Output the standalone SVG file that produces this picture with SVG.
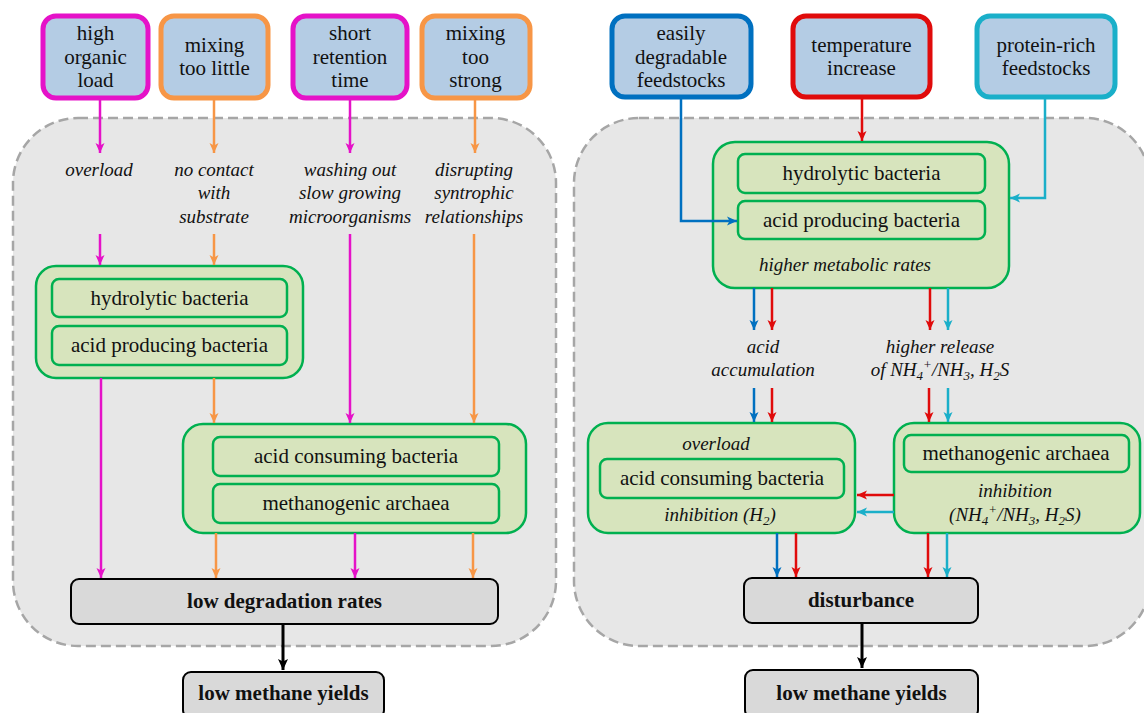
<svg xmlns="http://www.w3.org/2000/svg" width="1144" height="713" viewBox="0 0 1144 713">
<style>
.panel{fill:#e7e7e7;stroke:#a6a6a6;stroke-width:2.5;stroke-dasharray:10 5}
.top{fill:#b4cce4;stroke-width:5}
.grp{fill:#d7e4bd;stroke:#00b050;stroke-width:2.5}
.in{fill:#d7e4bd;stroke:#00b050;stroke-width:2.5}
.gray{fill:#d9d9d9;stroke:#000;stroke-width:2}
.txt text{fill:#111;text-anchor:middle}
.t{font-size:21px}
.i{font-size:19px;font-style:italic}
.b{font-size:21px;font-weight:bold}
.s{font-size:13px}
.c{fill:none;stroke-width:2.5}
.mg{stroke:#e512c8}.or{stroke:#f79646}.bl{stroke:#0070c0}.rd{stroke:#e00b0b}.cy{stroke:#1aafc9}.bk{stroke:#000;stroke-width:3}
</style>
<defs>
<marker id="amg" markerUnits="userSpaceOnUse" markerWidth="11" markerHeight="10" refX="10" refY="5" orient="auto"><path d="M0,0.5 L10,5 L0,9.5 L2.5,5 z" fill="#e512c8"/></marker>
<marker id="aor" markerUnits="userSpaceOnUse" markerWidth="11" markerHeight="10" refX="10" refY="5" orient="auto"><path d="M0,0.5 L10,5 L0,9.5 L2.5,5 z" fill="#f79646"/></marker>
<marker id="abl" markerUnits="userSpaceOnUse" markerWidth="11" markerHeight="10" refX="10" refY="5" orient="auto"><path d="M0,0.5 L10,5 L0,9.5 L2.5,5 z" fill="#0070c0"/></marker>
<marker id="ard" markerUnits="userSpaceOnUse" markerWidth="11" markerHeight="10" refX="10" refY="5" orient="auto"><path d="M0,0.5 L10,5 L0,9.5 L2.5,5 z" fill="#e00b0b"/></marker>
<marker id="acy" markerUnits="userSpaceOnUse" markerWidth="11" markerHeight="10" refX="10" refY="5" orient="auto"><path d="M0,0.5 L10,5 L0,9.5 L2.5,5 z" fill="#1aafc9"/></marker>
<marker id="abk" markerUnits="userSpaceOnUse" markerWidth="12" markerHeight="11" refX="11" refY="5.5" orient="auto"><path d="M0,0.5 L11,5.5 L0,10.5 L2.5,5.5 z" fill="#000"/></marker>
</defs>

<g id="panels">
<rect class="panel" x="13" y="118" width="543" height="528" rx="65"/>
<rect class="panel" x="574" y="118" width="576" height="528" rx="65"/>
</g>

<g class="txt" font-family="'Liberation Serif', 'DejaVu Serif', 'Times New Roman', Times, serif">

<g id="n-high-organic-load"><rect class="top" x="43" y="16" width="105" height="82" rx="13" stroke="#e512c8"/><text class="t" x="95.5" y="40">high</text><text class="t" x="95.5" y="64">organic</text><text class="t" x="95.5" y="87">load</text></g>
<g id="n-mixing-too-little"><rect class="top" x="161" y="16" width="107" height="82" rx="13" stroke="#f79646"/><text class="t" x="214.5" y="52">mixing</text><text class="t" x="214.5" y="75">too little</text></g>
<g id="n-short-retention"><rect class="top" x="293" y="16" width="114" height="82" rx="13" stroke="#e512c8"/><text class="t" x="350" y="40">short</text><text class="t" x="350" y="64">retention</text><text class="t" x="350" y="87">time</text></g>
<g id="n-mixing-too-strong"><rect class="top" x="422" y="16" width="108" height="82" rx="13" stroke="#f79646"/><text class="t" x="475.5" y="40">mixing</text><text class="t" x="475.5" y="64">too</text><text class="t" x="475.5" y="87">strong</text></g>

<g id="n-easily"><rect class="top" x="612" y="16" width="139" height="81" rx="13" stroke="#0070c0"/><text class="t" x="681" y="40">easily</text><text class="t" x="681" y="64">degradable</text><text class="t" x="681" y="87">feedstocks</text></g>
<g id="n-temperature"><rect class="top" x="793" y="16" width="137" height="81" rx="13" stroke="#e00b0b"/><text class="t" x="861.5" y="52">temperature</text><text class="t" x="861.5" y="75">increase</text></g>
<g id="n-protein"><rect class="top" x="977" y="16" width="138" height="81" rx="13" stroke="#1aafc9"/><text class="t" x="1046" y="52">protein-rich</text><text class="t" x="1046" y="75">feedstocks</text></g>

<g id="l-overload"><text class="i" x="99" y="176">overload</text></g>
<g id="l-no-contact"><text class="i" x="214" y="176">no contact</text><text class="i" x="214" y="199">with</text><text class="i" x="214" y="223">substrate</text></g>
<g id="l-washing"><text class="i" x="350" y="176">washing out</text><text class="i" x="350" y="199">slow growing</text><text class="i" x="350" y="223">microorganisms</text></g>
<g id="l-disrupting"><text class="i" x="474" y="176">disrupting</text><text class="i" x="474" y="199">syntrophic</text><text class="i" x="474" y="223">relationships</text></g>

<g id="n-left-group1"><rect class="grp" x="36" y="266" width="267" height="112" rx="20"/>
<rect class="in" x="52" y="279" width="235" height="38" rx="7"/><text class="t" x="169.5" y="305">hydrolytic bacteria</text>
<rect class="in" x="52" y="326" width="235" height="39" rx="7"/><text class="t" x="169.5" y="352">acid producing bacteria</text></g>

<g id="n-left-group2"><rect class="grp" x="183" y="424" width="343" height="109" rx="20"/>
<rect class="in" x="213" y="437" width="286" height="39" rx="7"/><text class="t" x="356" y="463">acid consuming bacteria</text>
<rect class="in" x="213" y="484" width="286" height="39" rx="7"/><text class="t" x="356" y="510">methanogenic archaea</text></g>

<g id="n-low-degradation"><rect class="gray" x="71" y="579" width="427" height="45" rx="8"/><text class="b" x="284.5" y="608">low degradation rates</text></g>
<g id="n-low-methane-left"><rect class="gray" x="183" y="672" width="201" height="46" rx="8"/><text class="b" x="283.5" y="700">low methane yields</text></g>

<g id="n-right-group1"><rect class="grp" x="713" y="142" width="296" height="146" rx="22"/>
<rect class="in" x="738" y="154" width="247" height="39" rx="7"/><text class="t" x="861.5" y="180">hydrolytic bacteria</text>
<rect class="in" x="738" y="201" width="247" height="38" rx="7"/><text class="t" x="861.5" y="227">acid producing bacteria</text>
<text class="i" x="845" y="271">higher metabolic rates</text></g>

<g id="l-acid-accumulation"><text class="i" x="763" y="353">acid</text><text class="i" x="763" y="376">accumulation</text></g>
<g id="l-higher-release"><text class="i" x="940" y="353">higher release</text><text class="i" x="940" y="376">of NH<tspan class="s" dy="4">4</tspan><tspan class="s" dy="-11">+</tspan><tspan dy="7">/NH</tspan><tspan class="s" dy="4">3</tspan><tspan dy="-4">, H</tspan><tspan class="s" dy="4">2</tspan><tspan dy="-4">S</tspan></text></g>

<g id="n-right-left-box"><rect class="grp" x="588" y="423" width="267" height="110" rx="20"/>
<text class="i" x="716" y="450">overload</text>
<rect class="in" x="600" y="459" width="244" height="39" rx="7"/><text class="t" x="722" y="485">acid consuming bacteria</text>
<text class="i" x="720" y="521">inhibition (H<tspan class="s" dy="4">2</tspan><tspan dy="-4">)</tspan></text></g>

<g id="n-right-right-box"><rect class="grp" x="894" y="423" width="246" height="110" rx="20"/>
<rect class="in" x="904" y="435" width="225" height="37" rx="7"/><text class="t" x="1016" y="460">methanogenic archaea</text>
<text class="i" x="1015" y="497">inhibition</text>
<text class="i" x="1015" y="521">(NH<tspan class="s" dy="4">4</tspan><tspan class="s" dy="-11">+</tspan><tspan dy="7">/NH</tspan><tspan class="s" dy="4">3</tspan><tspan dy="-4">, H</tspan><tspan class="s" dy="4">2</tspan><tspan dy="-4">S)</tspan></text></g>

<g id="n-disturbance"><rect class="gray" x="744" y="578" width="234" height="45" rx="8"/><text class="b" x="861" y="607">disturbance</text></g>
<g id="n-low-methane-right"><rect class="gray" x="745" y="670" width="233" height="48" rx="8"/><text class="b" x="861.5" y="700">low methane yields</text></g>
</g>

<g id="connectors">
<path class="c mg" d="M100,100 V153" marker-end="url(#amg)"/>
<path class="c or" d="M214,100 V153" marker-end="url(#aor)"/>
<path class="c mg" d="M350,100 V153" marker-end="url(#amg)"/>
<path class="c or" d="M475,100 V153" marker-end="url(#aor)"/>
<path class="c mg" d="M100,234 V265" marker-end="url(#amg)"/>
<path class="c or" d="M214,234 V265" marker-end="url(#aor)"/>
<path class="c mg" d="M350,234 V423" marker-end="url(#amg)"/>
<path class="c or" d="M474,234 V423" marker-end="url(#aor)"/>
<path class="c mg" d="M101,378 V578" marker-end="url(#amg)"/>
<path class="c or" d="M214,378 V423" marker-end="url(#aor)"/>
<path class="c or" d="M216,533 V578" marker-end="url(#aor)"/>
<path class="c mg" d="M355,533 V578" marker-end="url(#amg)"/>
<path class="c or" d="M473,533 V578" marker-end="url(#aor)"/>
<path class="c bk" d="M283,624 V670" marker-end="url(#abk)"/>

<path class="c bl" d="M681,97 V221 H737" marker-end="url(#abl)"/>
<path class="c rd" d="M862,97 V141" marker-end="url(#ard)"/>
<path class="c cy" d="M1045,97 V198 H1010" marker-end="url(#acy)"/>
<path class="c bl" d="M754,288 V330" marker-end="url(#abl)"/>
<path class="c rd" d="M772,288 V330" marker-end="url(#ard)"/>
<path class="c rd" d="M930,288 V330" marker-end="url(#ard)"/>
<path class="c cy" d="M948,288 V330" marker-end="url(#acy)"/>
<path class="c bl" d="M754,388 V422" marker-end="url(#abl)"/>
<path class="c rd" d="M772,388 V422" marker-end="url(#ard)"/>
<path class="c rd" d="M929,388 V422" marker-end="url(#ard)"/>
<path class="c cy" d="M948,388 V422" marker-end="url(#acy)"/>
<path class="c rd" d="M894,495 H857" marker-end="url(#ard)"/>
<path class="c cy" d="M894,512 H857" marker-end="url(#acy)"/>
<path class="c bl" d="M777,533 V577" marker-end="url(#abl)"/>
<path class="c rd" d="M796,533 V577" marker-end="url(#ard)"/>
<path class="c rd" d="M928,533 V577" marker-end="url(#ard)"/>
<path class="c cy" d="M947,533 V577" marker-end="url(#acy)"/>
<path class="c bk" d="M862,623 V668" marker-end="url(#abk)"/>
</g>
</svg>
